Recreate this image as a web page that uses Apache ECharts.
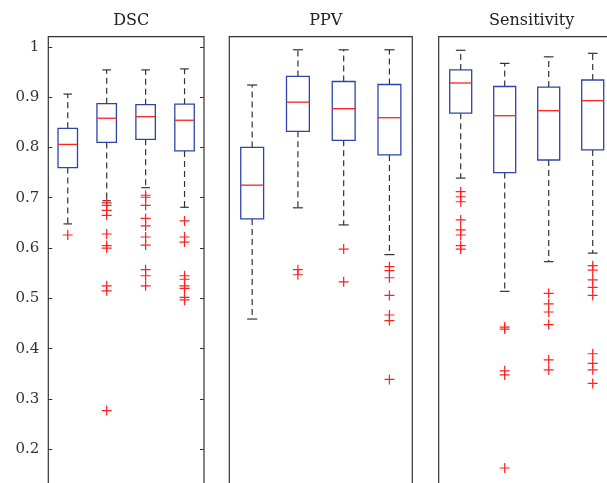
<!DOCTYPE html>
<html><head><meta charset="utf-8">
<script src="https://cdn.jsdelivr.net/npm/echarts@6/dist/echarts.min.js"></script>
<style>html,body{margin:0;padding:0;background:#fff}#c{width:607px;height:483px}</style>
</head><body><div id="c"></div>
<script>
// categories (unlabelled) and panel titles
const categories = ['1', '2', '3', '4'];
const panelTitles = ['DSC', 'PPV', 'Sensitivity'];
const yTicks = [0.2, 0.3, 0.4, 0.5, 0.6, 0.7, 0.8, 0.9, 1];

// box statistics: [lower whisker, Q1, median, Q3, upper whisker]
const dscStats = [
  [0.648, 0.760, 0.806, 0.838, 0.906],
  [0.694, 0.810, 0.858, 0.887, 0.954],
  [0.720, 0.816, 0.861, 0.885, 0.954],
  [0.681, 0.793, 0.854, 0.886, 0.956]
];
const ppvStats = [
  [0.459, 0.658, 0.725, 0.800, 0.924],
  [0.680, 0.832, 0.890, 0.941, 0.994],
  [0.646, 0.814, 0.877, 0.931, 0.994],
  [0.587, 0.785, 0.859, 0.925, 0.994]
];
const sensStats = [
  [0.739, 0.868, 0.928, 0.954, 0.993],
  [0.514, 0.750, 0.863, 0.921, 0.967],
  [0.573, 0.775, 0.873, 0.920, 0.980],
  [0.590, 0.795, 0.893, 0.934, 0.987]
];

// outliers per box
const dscOutliers = [
  [0.626],
  [0.690, 0.685, 0.675, 0.665, 0.628, 0.605, 0.600, 0.525, 0.515, 0.277],
  [0.705, 0.701, 0.685, 0.659, 0.644, 0.622, 0.606, 0.557, 0.545, 0.525],
  [0.654, 0.622, 0.612, 0.545, 0.538, 0.525, 0.520, 0.502, 0.497]
];
const ppvOutliers = [
  [],
  [0.557, 0.547],
  [0.598, 0.533],
  [0.563, 0.555, 0.541, 0.506, 0.467, 0.456, 0.339]
];
const sensOutliers = [
  [0.712, 0.702, 0.692, 0.656, 0.636, 0.626, 0.605, 0.598],
  [0.443, 0.439, 0.356, 0.348, 0.163],
  [0.510, 0.489, 0.473, 0.448, 0.378, 0.358],
  [0.565, 0.556, 0.537, 0.522, 0.506, 0.390, 0.371, 0.358, 0.331]
];

const allStats = [dscStats, ppvStats, sensStats];
const allOutliers = [dscOutliers, ppvOutliers, sensOutliers];

const grids = [
  {left: 48.3, top: 36.7, width: 155.7, height: 463},
  {left: 229.3, top: 36.7, width: 183, height: 463},
  {left: 438.7, top: 36.7, width: 176, height: 463}
];

const BLUE = '#2c45ad', RED = '#ff2020', DARK = '#333333';

function fmt(v) {
  for (const t of yTicks) if (Math.abs(v - t) < 1e-6) return t === 1 ? '1' : t.toFixed(1);
  return '';
}

function renderBox(params, api) {
  const i = api.value(0);
  const lo = api.coord([i, api.value(1)]);
  const q1 = api.coord([i, api.value(2)]);
  const md = api.coord([i, api.value(3)]);
  const q3 = api.coord([i, api.value(4)]);
  const hi = api.coord([i, api.value(5)]);
  const band = api.size([1, 0])[0];
  const bw = band * 0.5, cw = band * 0.22;
  const x = q1[0];
  const dash = {stroke: DARK, lineWidth: 1.2, lineDash: [6, 4]};
  const solid = {stroke: DARK, lineWidth: 1.2};
  return {
    type: 'group',
    children: [
      {type: 'line', shape: {x1: x, y1: q3[1], x2: x, y2: hi[1]}, style: dash},
      {type: 'line', shape: {x1: x, y1: q1[1], x2: x, y2: lo[1]}, style: dash},
      {type: 'line', shape: {x1: x - cw / 2, y1: hi[1], x2: x + cw / 2, y2: hi[1]}, style: solid},
      {type: 'line', shape: {x1: x - cw / 2, y1: lo[1], x2: x + cw / 2, y2: lo[1]}, style: solid},
      {type: 'rect', shape: {x: x - bw / 2, y: q3[1], width: bw, height: q1[1] - q3[1]},
        style: {fill: '#fff', stroke: BLUE, lineWidth: 1.3}},
      {type: 'line', shape: {x1: x - bw / 2, y1: md[1], x2: x + bw / 2, y2: md[1]},
        style: {stroke: RED, lineWidth: 1.3}}
    ]
  };
}

const xAxis = [], yAxis = [], series = [], title = [];
grids.forEach((g, k) => {
  title.push({text: panelTitles[k], left: g.left + g.width / 2, top: 8, textAlign: 'center',
    textStyle: {fontFamily: 'DejaVu Serif', fontSize: 16, fontWeight: 'normal', color: '#222'}});
  xAxis.push({type: 'category', gridIndex: k, data: categories, boundaryGap: true,
    axisLine: {show: false}, axisTick: {show: false}, axisLabel: {show: false}, splitLine: {show: false}});
  const first = k === 0;
  yAxis.push({type: 'value', gridIndex: k, min: 0.1, max: 1.02, interval: 0.1, position: 'left',
    axisLine: {show: false},
    axisTick: {show: first, inside: true, length: 4, lineStyle: {color: DARK}},
    axisLabel: {show: first, formatter: fmt, margin: 9, fontFamily: 'DejaVu Serif', fontSize: 15, color: '#333'},
    splitLine: {show: false}});
  if (first) {
    yAxis.push({type: 'value', gridIndex: k, min: 0.1, max: 1.02, interval: 0.1, position: 'right',
      axisLine: {show: false}, axisTick: {show: true, inside: true, length: 4, lineStyle: {color: DARK}},
      axisLabel: {show: false}, splitLine: {show: false}});
  }
});
let yIdx = [0, 2, 3];
grids.forEach((g, k) => {
  series.push({
    type: 'custom', xAxisIndex: k, yAxisIndex: yIdx[k],
    renderItem: renderBox,
    encode: {x: 0, y: [1, 2, 3, 4, 5]},
    data: allStats[k].map((s, i) => [i].concat(s)),
    z: 2
  });
  const pts = [];
  allOutliers[k].forEach((arr, i) => arr.forEach(v => pts.push([i, v])));
  series.push({
    type: 'scatter', xAxisIndex: k, yAxisIndex: yIdx[k],
    symbol: 'path://M5,0L5,10M0,5L10,5', symbolSize: 10,
    itemStyle: {color: 'rgba(0,0,0,0)', borderColor: RED, borderWidth: 1.2, opacity: 1},
    data: pts, z: 3
  });
});

const chart = echarts.init(document.getElementById('c'), null, {renderer: 'canvas'});
chart.setOption({
  animation: false,
  backgroundColor: '#fff',
  title: title,
  grid: grids.map(g => Object.assign({show: true, borderColor: DARK, borderWidth: 1.2, backgroundColor: 'transparent',
    outerBoundsMode: 'none', containLabel: false}, g)),
  xAxis: xAxis,
  yAxis: yAxis,
  series: series
});
</script></body></html>
